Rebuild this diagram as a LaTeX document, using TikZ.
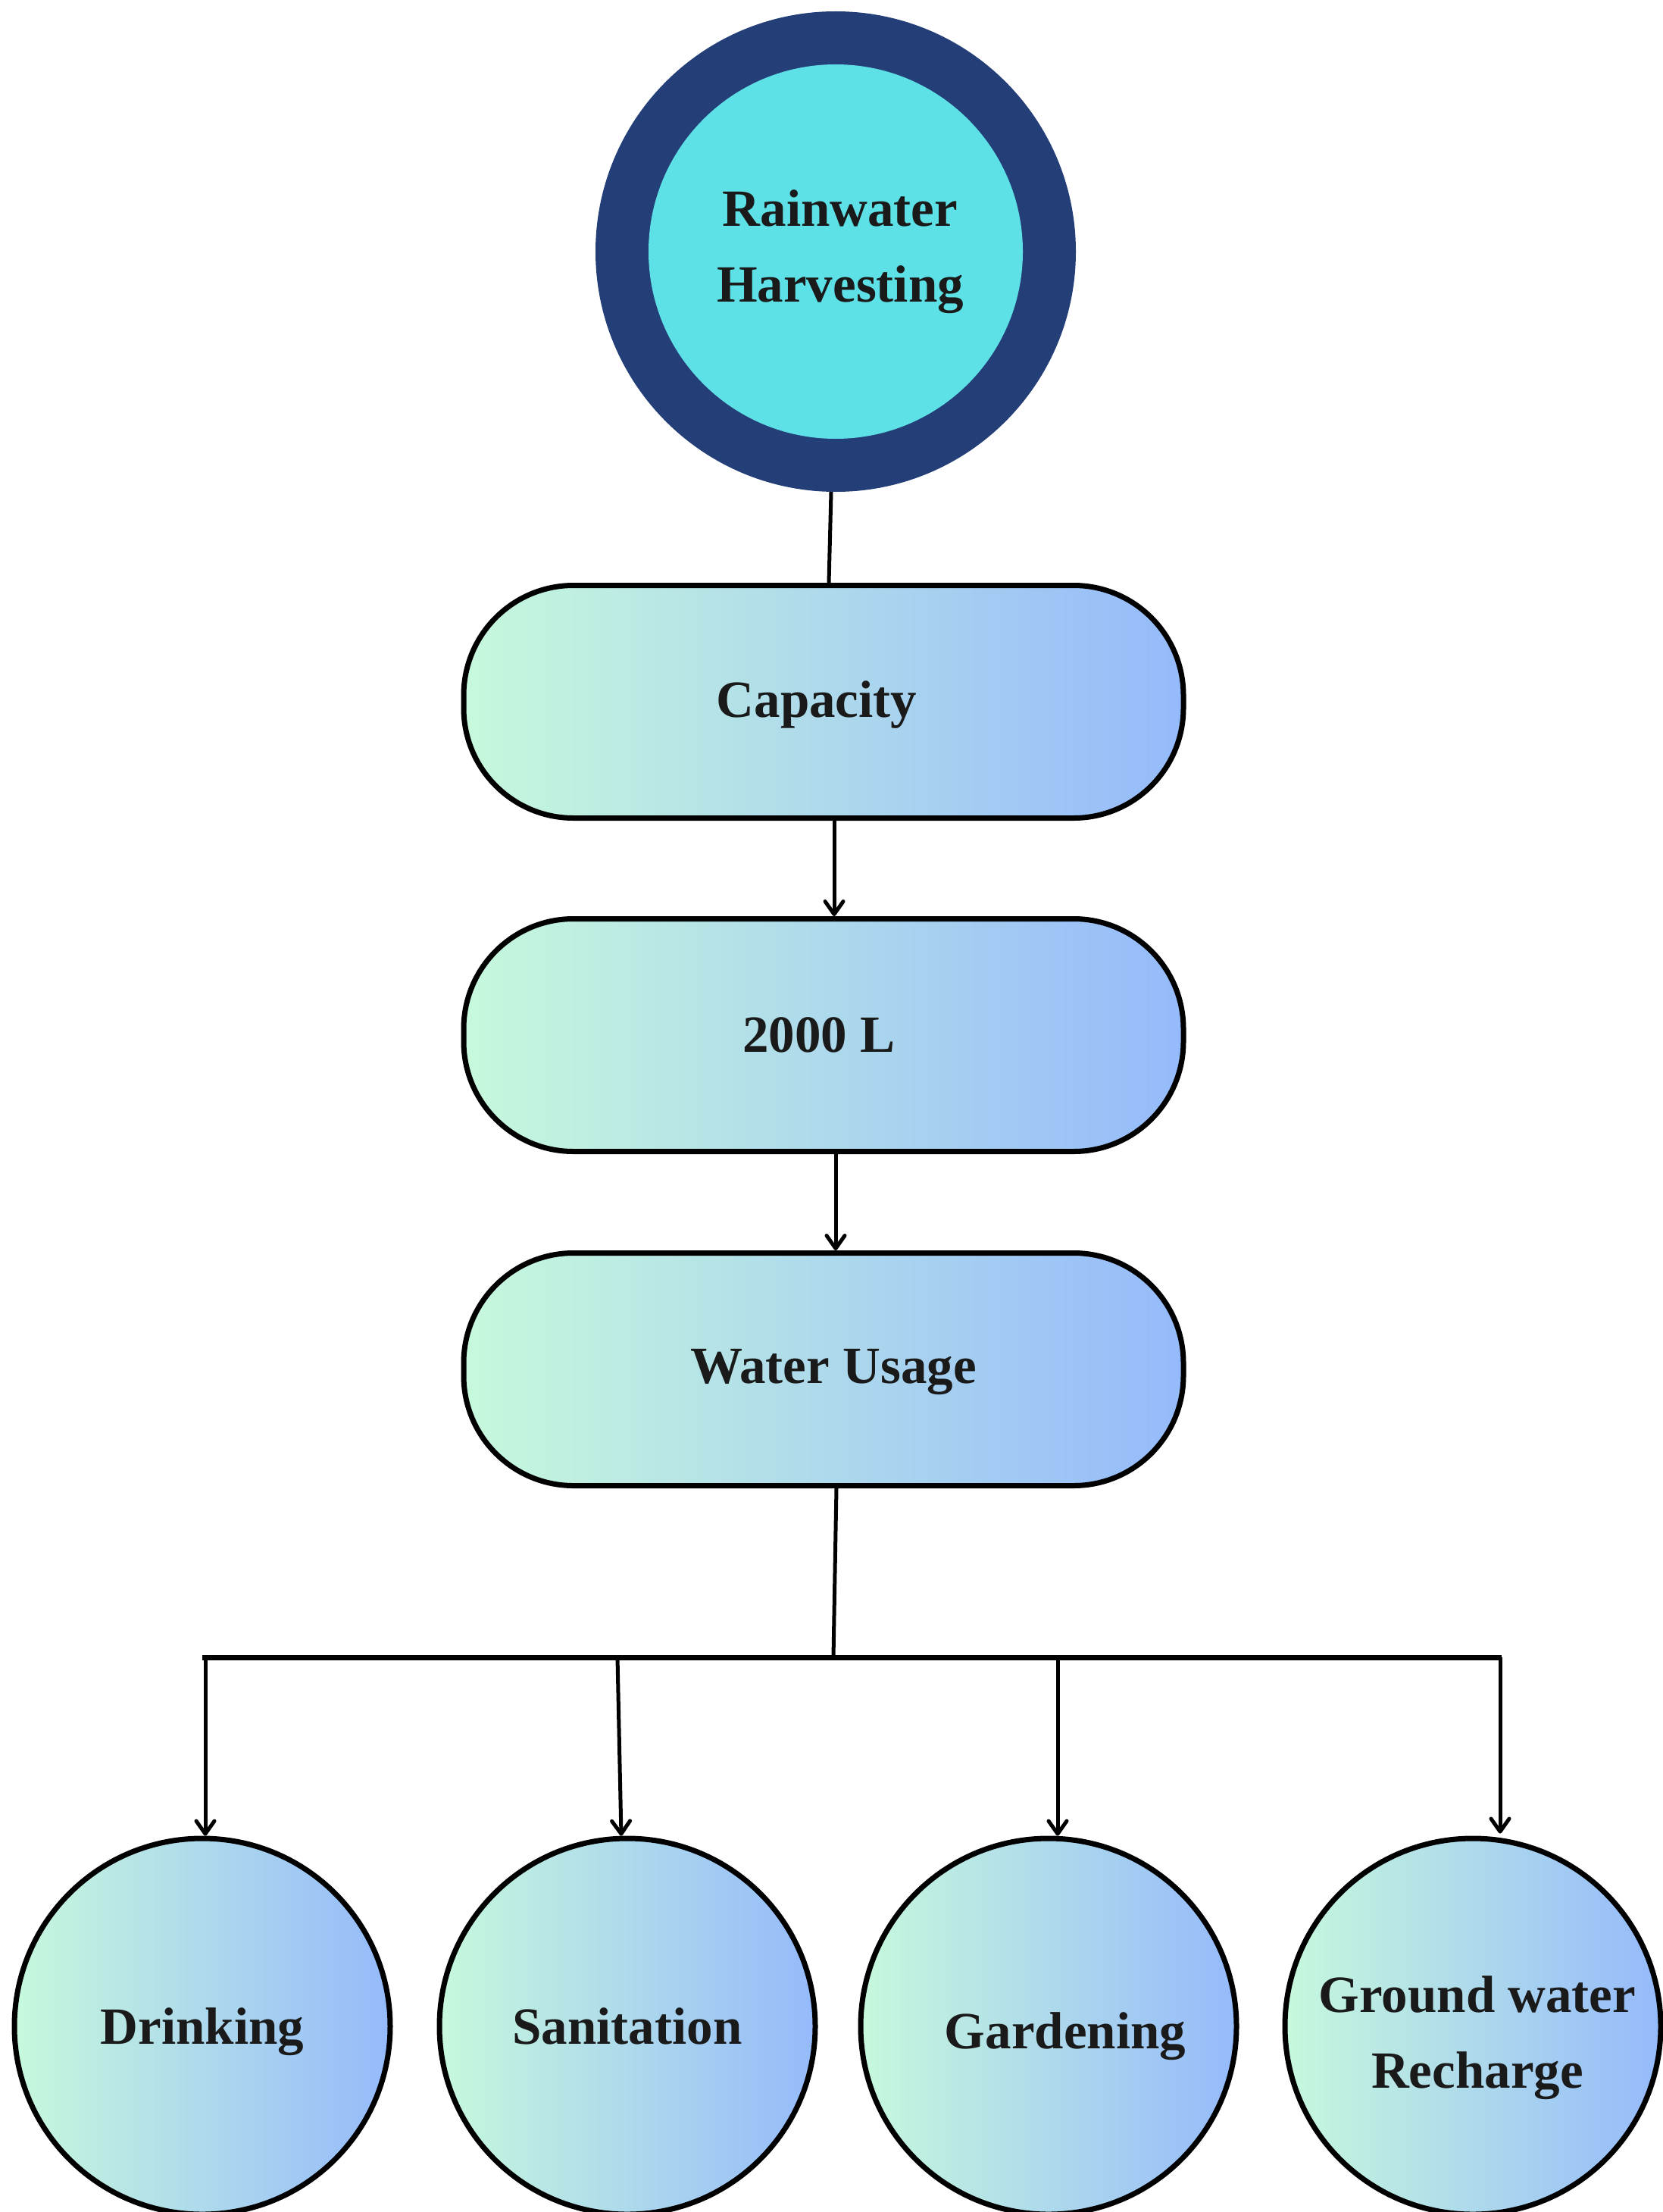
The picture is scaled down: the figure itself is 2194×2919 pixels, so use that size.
\documentclass[tikz,border=0pt]{standalone}
\usepackage{fontspec}
\setmainfont{Liberation Serif}
\usetikzlibrary{arrows.meta}
\definecolor{navyring}{HTML}{243F77}
\definecolor{cyanfill}{HTML}{5DE1E6}
\definecolor{mintc}{HTML}{C6F9DC}
\definecolor{bluec}{HTML}{95BAFB}
\definecolor{txt}{HTML}{1A1A1A}
\tikzset{
  lbl/.style={font=\fontsize{69}{100}\selectfont\bfseries, text=txt, align=center, inner sep=0pt},
  stadium/.style={draw=black, line width=7pt, rounded corners=145pt,
    minimum width=950pt, minimum height=307pt, inner sep=0pt,
    left color=mintc, right color=bluec},
  usecircle/.style={circle, draw=black, line width=7pt, minimum size=496pt,
    inner sep=0pt, left color=mintc, right color=bluec},
  conn/.style={line width=5pt, draw=black},
  arr/.style={conn, -{Straight Barb[length=17pt,width=24pt,round]}},
  bus/.style={line width=7pt, draw=black}
}
\begin{document}
\begin{tikzpicture}[x=1pt,y=-1pt]
\useasboundingbox (0,0) rectangle (2194,2919);
% top circle
\node[circle, fill=navyring, minimum size=634pt, inner sep=0pt] (ring) at (1103,332) {};
\node[circle, fill=cyanfill, minimum size=494pt, inner sep=0pt] (rain) at (1103,332) {};
\node[lbl] (rain-t) at ([xshift=6pt]rain) {Rainwater\\Harvesting};
% boxes
\node[stadium] (cap) at (1087,926) {};
\node[lbl] (cap-t) at ([xshift=-9pt,yshift=-4pt]cap) {Capacity};
\node[stadium] (vol) at (1087,1366) {};
\node[lbl] (vol-t) at ([xshift=-6pt]vol) {2000 L};
\node[stadium] (wu) at (1087,1807) {};
\node[lbl] (wu-t) at ([xshift=13pt,yshift=-4pt]wu) {Water Usage};
% bottom circles
\node[usecircle] (d1) at (267,2674) {};
\node[lbl] (d1-t) at ([yshift=-7pt]d1) {Drinking};
\node[usecircle] (d2) at (828,2674) {};
\node[lbl] (d2-t) at (d2) {Sanitation};
\node[usecircle] (d3) at (1384,2674) {};
\node[lbl] (d3-t) at ([xshift=22pt,yshift=-13pt]d3) {Gardening};
\node[usecircle] (d4) at (1944,2674) {};
\node[lbl] (d4-t) at ([xshift=6pt,yshift=-15pt]d4) {Ground water\\Recharge};
% connectors
\draw[conn] ([xshift=-6pt]ring.south) -- ([xshift=7pt]cap.north);
\draw[arr] ([xshift=14pt]cap.south) -- ([xshift=14pt]vol.north);
\draw[arr] ([xshift=16pt]vol.south) -- ([xshift=16pt]wu.north);
\coordinate (bj) at (1100,2187);
\coordinate (bl) at (267,2187);
\coordinate (br) at (1982,2187);
\draw[conn] ([xshift=17pt]wu.south) -- (bj);
\draw[bus] (bl) -- (br);
\coordinate (b1) at (271,2187);
\coordinate (b2) at (815,2187);
\coordinate (b3) at (1396,2187);
\coordinate (b4) at (1980,2187);
\draw[arr] (b1) -- (b1 |- d1.north);
\draw[arr] (b2) -- ([xshift=-8pt]d2.north);
\draw[arr] (b3) -- (b3 |- d3.north);
\draw[arr] (b4) -- ([yshift=3pt]b4 |- d4.north);
\end{tikzpicture}
\end{document}
